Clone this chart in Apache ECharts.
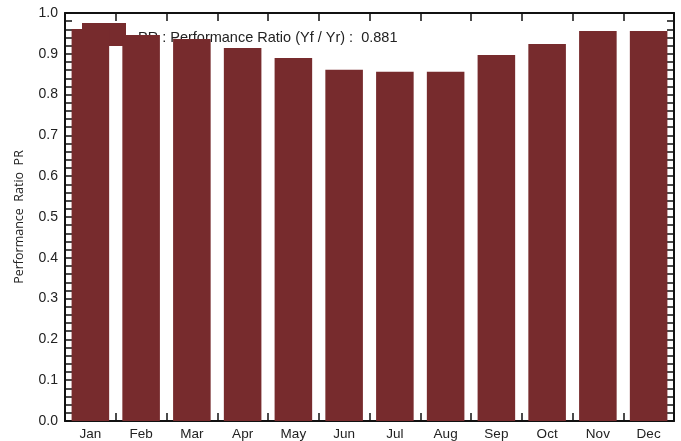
<!DOCTYPE html>
<html>
<head>
<meta charset="utf-8">
<script src="https://cdn.jsdelivr.net/npm/echarts@6/dist/echarts.min.js"></script>
<style>
  html, body { margin: 0; padding: 0; background: #fff; }
  #chart { width: 681px; height: 441px; }
</style>
</head>
<body>
<div id="chart"></div>
<script>
  // months on the x axis
  var months = ['Jan', 'Feb', 'Mar', 'Apr', 'May', 'Jun', 'Jul', 'Aug', 'Sep', 'Oct', 'Nov', 'Dec'];
  // monthly performance ratio
  var prValues = [0.961, 0.946, 0.936, 0.914, 0.890, 0.861, 0.856, 0.856, 0.897, 0.924, 0.956, 0.956];
  var seriesName = 'PR : Performance Ratio (Yf / Yr) :  0.881';

  var barColor = '#772b2d';
  var frame = { show: true, onZero: false, lineStyle: { color: '#111', width: 2 } };

  var chart = echarts.init(document.getElementById('chart'));

  var option = {
    animation: false,
    textStyle: { fontFamily: 'Liberation Sans' },
    grid: { left: 65, right: 7, top: 13, bottom: 20, outerBoundsMode: 'none', containLabel: false },
    legend: {
      z: 1,
      left: 82,
      top: 23,
      padding: 0,
      icon: 'rect',
      itemWidth: 44,
      itemHeight: 23,
      formatter: function (name) { return '{t|' + name + '}'; },
      textStyle: {
        rich: {
          t: { fontSize: 14.5, color: '#222', fontFamily: 'Liberation Sans', padding: [7, 0, 0, 7] }
        }
      },
      data: [seriesName]
    },
    xAxis: [{
      type: 'category',
      data: months,
      position: 'bottom',
      axisLine: frame,
      axisTick: { show: true, inside: true, length: 8, lineStyle: { color: '#111', width: 1.5 } },
      axisLabel: { fontSize: 13.5, color: '#222', margin: 6 },
      splitLine: { show: false }
    }, {
      type: 'category',
      data: months,
      position: 'top',
      axisLine: frame,
      axisTick: { show: true, inside: true, length: 8, lineStyle: { color: '#111', width: 1.5 } },
      axisLabel: { show: false },
      splitLine: { show: false }
    }],
    yAxis: [{
      type: 'value',
      min: 0,
      max: 1,
      interval: 0.1,
      position: 'left',
      name: 'Performance  Ratio  PR',
      nameLocation: 'middle',
      nameGap: 39,
      nameTextStyle: { fontFamily: 'Open Sans', fontSize: 12.5, color: '#222' },
      axisLine: frame,
      axisTick: { show: true, inside: true, length: 7, lineStyle: { color: '#111', width: 1.5 } },
      minorTick: { show: true, splitNumber: 5, length: 7, lineStyle: { color: '#111', width: 1.5 } },
      axisLabel: {
        fontSize: 14, color: '#222', margin: 7,
        formatter: function (v) { return v.toFixed(1); }
      },
      splitLine: { show: false }
    }, {
      type: 'value',
      min: 0,
      max: 1,
      interval: 0.1,
      position: 'right',
      axisLine: frame,
      axisTick: { show: true, inside: true, length: 7, lineStyle: { color: '#111', width: 1.5 } },
      minorTick: { show: true, splitNumber: 5, length: 7, lineStyle: { color: '#111', width: 1.5 } },
      axisLabel: { show: false },
      splitLine: { show: false }
    }],
    series: [{
      name: seriesName,
      type: 'bar',
      z: 3,
      xAxisIndex: 0,
      yAxisIndex: 0,
      barWidth: '74%',
      itemStyle: { color: barColor },
      data: prValues
    }]
  };

  chart.setOption(option);
</script>
</body>
</html>
